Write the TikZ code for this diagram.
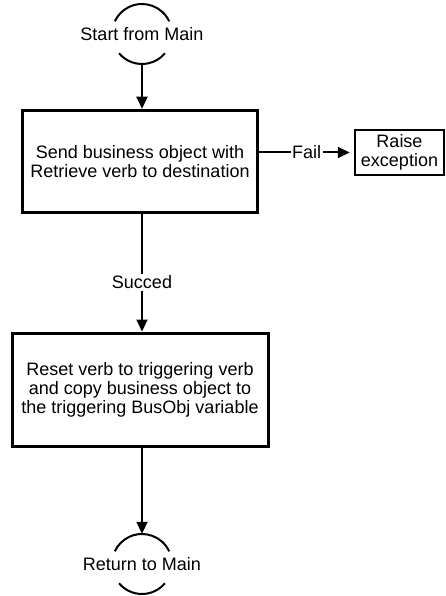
\documentclass[tikz,border=0pt]{standalone}
\usepackage{fontspec}
\setmainfont{Liberation Sans}
\usetikzlibrary{arrows.meta}

\begin{document}
\begin{tikzpicture}[x=1pt,y=1pt,
  every node/.style={font=\fontsize{18}{19}\selectfont,align=center},
  stepbox/.style={draw,line width=3.5pt,inner sep=0pt},
  endpt/.style={circle,minimum size=60pt,inner sep=0pt},
  flow/.style={line width=2pt,-{Triangle[length=12pt,width=11pt]}}]
\useasboundingbox (0,0) rectangle (446,-596);
% start and end points
\node[endpt] (start) at (142,-34) {\makebox[0pt]{Start from Main}};
\draw[line width=2pt] ([shift={(25:30)}]start.center) arc (25:155:30);
\draw[line width=2pt] ([shift={(220:30)}]start.center) arc (220:320:30);
\node[endpt] (finish) at (142,-564) {\makebox[0pt]{Return to Main}};
\draw[line width=2pt] ([shift={(25:30)}]finish.center) arc (25:155:30);
\draw[line width=2pt] ([shift={(220:30)}]finish.center) arc (220:320:30);
% steps
\node[stepbox,minimum width=235pt,minimum height=102pt] (send) at (140,-161.5)
  {Send business object with\\Retrieve verb to destination};
\node[stepbox,line width=2.5pt,minimum width=89pt,minimum height=45pt] (raise) at (399.5,-152.5)
  {Raise\\exception};
\node[stepbox,line width=3pt,minimum width=256pt,minimum height=113pt] (reset) at (140,-389.5)
  {Reset verb to triggering verb\\and copy business object to\\the triggering BusObj variable};
% connectors
\draw[flow] (start.south) -- (start.south |- send.north);
\draw[flow,shorten >=4pt] (send.east |- raise.west) -- node[fill=white,inner xsep=1.5pt,inner ysep=1pt] {Fail} (raise.west);
\draw[flow] (start.south |- send.south) -- node[pos=0.58,fill=white,inner sep=2pt] {Succed} (start.south |- reset.north);
\draw[flow] (start.south |- reset.south) -- (finish.north);
\end{tikzpicture}
\end{document}
